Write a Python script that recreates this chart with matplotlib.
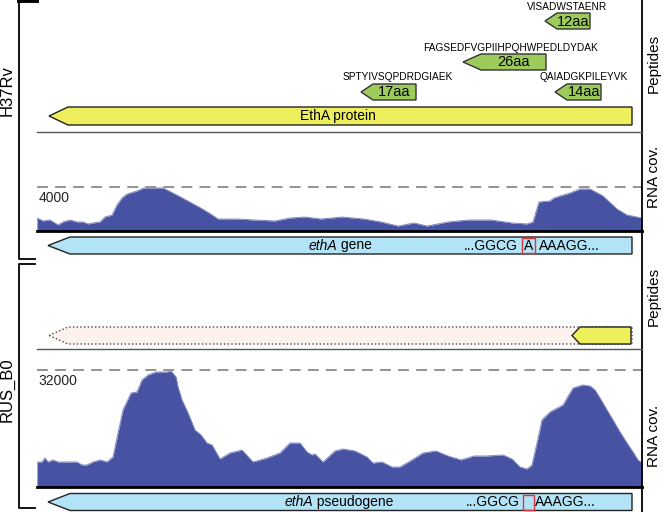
import matplotlib.pyplot as plt
from matplotlib.patches import Polygon, Rectangle
from matplotlib import font_manager

# ---- data -------------------------------------------------------------
strains = ["H37Rv", "RUS_B0"]
cov_max_label = [4000, 32000]

# RNA coverage along the gene (x in drawing units, value in reads)
h37_pos = [37, 43, 50, 58, 63, 70, 77, 83, 88, 93, 100, 105, 112, 117, 122, 127,
           137, 144, 163, 173, 186, 199, 209, 218, 237, 254, 275, 290, 305, 321,
           342, 364, 381, 398, 414, 427, 448, 469, 491, 512, 527, 533, 539, 550,
           554, 560, 570, 580, 590, 603, 617, 627, 642]
h37_cov = [1180, 910, 1000, 550, 820, 1000, 820, 820, 640, 730, 820, 1270, 1450,
           2360, 3000, 3360, 3640, 3910, 3910, 3450, 2820, 2180, 1640, 1090, 1090,
           1000, 910, 1180, 1270, 1090, 1270, 1090, 820, 450, 730, 450, 820, 1000,
           1000, 730, 640, 820, 2640, 2730, 3000, 3180, 3450, 3820, 3820, 3180,
           2000, 1450, 1180]

rus_pos = [37, 42, 45, 48, 53, 58, 67, 77, 82, 87, 93, 100, 107, 113, 118, 123,
           131, 137, 142, 148, 156, 167, 171, 176, 178, 182, 188, 195, 201, 207,
           212, 220, 230, 242, 253, 267, 280, 290, 300, 307, 312, 315, 323, 335,
           343, 355, 367, 373, 382, 392, 400, 412, 423, 436, 448, 461, 474, 487,
           503, 512, 520, 527, 532, 537, 542, 550, 563, 573, 583, 590, 595, 600,
           607, 613, 620, 627, 633, 638, 642]
rus_cov = [6840, 6840, 7930, 6840, 7390, 6840, 6840, 6840, 6020, 6020, 6840, 7390,
           6840, 8200, 14770, 21060, 25710, 25980, 29270, 30630, 31450, 31450,
           31730, 30090, 27350, 23800, 20240, 15590, 14220, 12030, 11490, 7660,
           9300, 10120, 6840, 7930, 9300, 12030, 12030, 9570, 8750, 9030, 6840,
           9850, 10390, 9850, 8200, 6560, 6840, 5470, 5470, 7390, 9300, 9850, 8480,
           7390, 8480, 8480, 8750, 7660, 5470, 4920, 6020, 12030, 18330, 20510,
           22430, 27080, 27900, 27620, 26530, 24340, 21060, 18330, 15040, 12030,
           9570, 7390, 6560]

peptides = ["VISADWSTAENR", "FAGSEDFVGPIIHPQHWPEDLDYDAK",
            "SPTYIVSQPDRDGIAEK", "QAIADGKPILEYVK"]
pep_len = ["12aa", "26aa", "17aa", "14aa"]
pep_tip = [545, 463, 361, 555]
pep_end = [590, 546, 416, 601]
pep_y = [21, 62, 92, 92]
pep_text_x = [567, 510, 398, 584]
pep_text_y = [7, 48, 77, 77]

gene_labels = [("ethA", " gene"), ("ethA", " pseudogene")]
seq_left = "...GGCG"
seq_right = "AAAGG..."
seq_base = ["A", ""]

# ---- layout -----------------------------------------------------------
W, H = 663, 512
names = {f.name for f in font_manager.fontManager.ttflist}
narrow = "Liberation Sans Narrow" if "Liberation Sans Narrow" in names else "Liberation Sans"
plt.rcParams["font.family"] = ["Liberation Sans", "DejaVu Sans"]

fig = plt.figure(figsize=(W / 100, H / 100), dpi=100)


def px_axes(x0, y0, x1, y1):
    return fig.add_axes([x0 / W, 1 - y1 / H, (x1 - x0) / W, (y1 - y0) / H])


cov_color = "#4752a3"
panels = [(h37_pos, h37_cov, 132, 231, 187), (rus_pos, rus_cov, 349, 487, 370)]
for (pos, cov, top, base, dash_y), lab in zip(panels, cov_max_label):
    ax = px_axes(37, top, 642, base)
    # scale so that the reference level sits on the dashed line
    ymax = lab * (base - top) / (base - dash_y)
    ax.fill_between(pos, cov, 0, color=cov_color, lw=0)
    ax.plot(pos, cov, color="#8088bf", lw=0.7)
    ax.axhline(lab, color="#8a8a8a", lw=1.3, ls=(0, (6, 4)))
    ax.set_xlim(37, 642)
    ax.set_ylim(0, ymax)
    for s in ["top", "left", "right"]:
        ax.spines[s].set_visible(False)
    ax.spines["bottom"].set_linewidth(2)
    ax.set_xticks([])
    ax.set_yticks([])
    ax.patch.set_alpha(0)
    ax.annotate(str(lab), (0.002, lab), xycoords=ax.get_yaxis_transform(),
                xytext=(0, -3), textcoords="offset points",
                ha="left", va="top", fontsize=10, color="#222222")

ov = fig.add_axes([0, 0, 1, 1])
ov.set_xlim(0, W)
ov.set_ylim(H, 0)
ov.axis("off")
ov.patch.set_alpha(0)


def arrow(x_tip, x_body, x_end, y0, y1, **kw):
    ym = (y0 + y1) / 2
    ov.add_patch(Polygon([(x_tip, ym), (x_body, y0), (x_end, y0), (x_end, y1),
                          (x_body, y1)], closed=True, **kw))


# brackets and frame
ov.plot([19, 19, 35], [1, 259, 259], color="k", lw=1.3)
ov.plot([18.5, 37], [1, 1], color="k", lw=2.8)
ov.plot([35, 19, 19, 35], [264, 264, 508, 508], color="k", lw=1.3)
ov.plot([642, 642], [0, 512], color="k", lw=1.3)
ov.plot([37, 642], [132, 132], color="#555555", lw=1)
ov.plot([37, 642], [349, 349], color="#555555", lw=1)

ov.text(7, 91, strains[0], rotation=90, ha="center", va="center", fontsize=12)
ov.text(7, 390, strains[1], rotation=90, ha="center", va="center", fontsize=12)
for yc, t in [(63, "Peptides"), (177, "RNA cov."), (296, "Peptides"), (436, "RNA cov.")]:
    ov.text(654, yc, t, rotation=90, ha="center", va="center", fontsize=11)

# protein and peptides
arrow(49, 68, 632, 107, 125, facecolor="#eeef5c", edgecolor="#222222", lw=1)
ov.text(338, 116, "EthA protein", ha="center", va="center", fontsize=10)
for name, ln, x0, x1, yc, tx, ty in zip(peptides, pep_len, pep_tip, pep_end,
                                         pep_y, pep_text_x, pep_text_y):
    hl = 18 if ln == "26aa" else 12
    arrow(x0, x0 + hl, x1, yc - 8, yc + 8, facecolor="#9ccb5c",
          edgecolor="#333333", lw=1)
    ov.text((x0 + hl + x1) / 2, yc + 0.5, ln, ha="center", va="center",
            fontsize=10.5, family=narrow)
    ov.text(tx, ty, name, ha="center", va="center", fontsize=7.3)

# RUS_B0 truncated protein
arrow(49, 68, 632, 327, 344, facecolor="#fdf1ee", edgecolor="#444444",
      lw=1, ls=":")
arrow(572, 580, 631, 327, 344, facecolor="#eeef5c", edgecolor="#222222", lw=1)

# genes
for gy, (it, rest), base, (sl, bx0, bx1, sr) in zip(
        [245.5, 502], gene_labels, seq_base,
        [(518, 522, 535, 539), (520, 523, 534, 535)]):
    arrow(48, 70, 632, gy - 8.5, gy + 8.5, facecolor="#b2e3f7",
          edgecolor="#222222", lw=1)
    lx = 337 if rest == " gene" else 313
    ov.text(lx, gy, it, ha="right", va="center", fontsize=10, style="italic")
    ov.text(lx, gy, rest, ha="left", va="center", fontsize=10)
    ov.text(sl, gy, seq_left, ha="right", va="center", fontsize=10)
    ov.text(sr, gy, seq_right, ha="left", va="center", fontsize=10)
    ov.add_patch(Rectangle((bx0, gy - 7.5), bx1 - bx0, 15, fill=False,
                           edgecolor="#d8383e", lw=1))
    if base:
        ov.text((bx0 + bx1) / 2, gy, base, ha="center", va="center", fontsize=10)

fig.savefig("out.png", dpi=100)
